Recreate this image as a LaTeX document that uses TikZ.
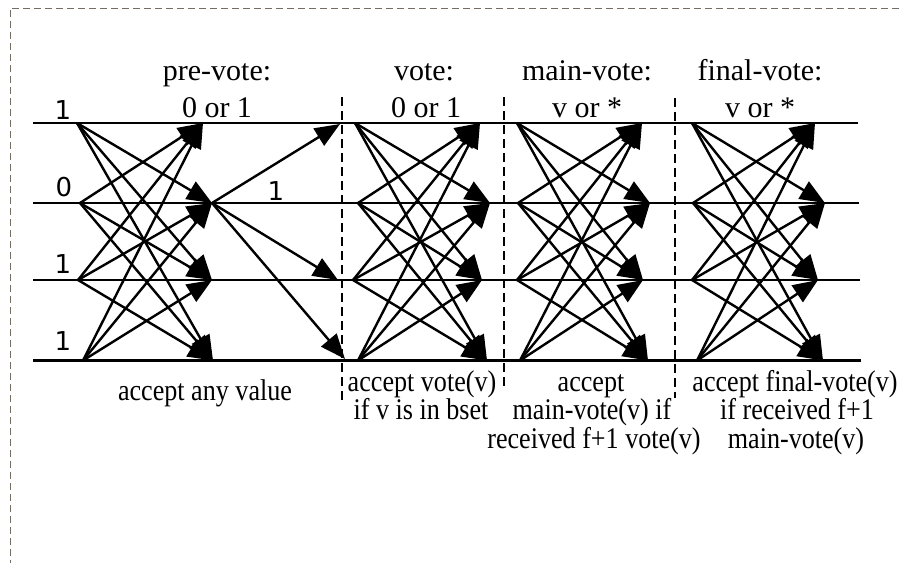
\documentclass[tikz,border=0pt]{standalone}
\usepackage{fontspec}
\setmainfont{Liberation Serif}
\newfontfamily\digitfont{DejaVu Sans}
\newfontfamily\notefont[FakeStretch=0.87]{Liberation Serif}
\usetikzlibrary{arrows.meta}
\definecolor{framegray}{RGB}{115,109,99}

\begin{document}
\begin{tikzpicture}[x=1pt,y=-1pt,
  track/.style={line width=2.7pt},
  msg/.style={line width=2.4pt,-{Triangle[length=25pt,width=20pt]}},
  phase/.style={dash pattern=on 9pt off 5pt,line width=1.1pt},
  head/.style={font=\fontsize{30}{36}\selectfont,anchor=base,inner sep=0pt},
  note/.style={font=\notefont\fontsize{30}{28.5}\selectfont,anchor=base,inner sep=0pt},
  idx/.style={font=\digitfont\fontsize{26}{30}\selectfont,inner sep=0pt}]

\useasboundingbox (0,0) rectangle (899,563);

% outer dashed frame (only top and left edges lie inside the page)
\draw[framegray,line width=1pt,dash pattern=on 7pt off 4pt] (899,8) -- (10,8) -- (10,563);

% process time lines
\foreach \k/\y/\xe in {1/123/858,2/203/859,3/280/860,4/360.5/861}{
  \coordinate (L\k w) at (33,\y);
  \coordinate (L\k e) at (\xe,\y);
  \draw[track] (L\k w) -- (L\k e);
}

% phase separators
\coordinate (d1t) at (342,97);  \coordinate (d1b) at (342,400);
\coordinate (d2t) at (504,97);  \coordinate (d2b) at (504,390);
\coordinate (d3t) at (675,98);  \coordinate (d3b) at (675,398);
\draw[phase] (d1t) -- (d1b);
\draw[phase] (d2t) -- (d2b);
\draw[phase] (d3t) -- (d3b);

% senders (s) and receivers (t) of each round
\coordinate (a-s1) at (77,123);  \coordinate (a-t1) at (203,123);
\coordinate (a-s2) at (80,203);  \coordinate (a-t2) at (212,203);
\coordinate (a-s3) at (78,280);  \coordinate (a-t3) at (212,280);
\coordinate (a-s4) at (83,360.5);\coordinate (a-t4) at (213,360.5);

\coordinate (b-s1) at (355,123); \coordinate (b-t1) at (480,123);
\coordinate (b-s2) at (358,203); \coordinate (b-t2) at (490,203);
\coordinate (b-s3) at (353,280); \coordinate (b-t3) at (482,280);
\coordinate (b-s4) at (358,360.5);\coordinate (b-t4) at (487,360.5);

\coordinate (c-s1) at (517,123); \coordinate (c-t1) at (642,123);
\coordinate (c-s2) at (518,203); \coordinate (c-t2) at (650,203);
\coordinate (c-s3) at (517,280); \coordinate (c-t3) at (643,280);
\coordinate (c-s4) at (520,360.5);\coordinate (c-t4) at (648,360.5);

\coordinate (d-s1) at (692,123); \coordinate (d-t1) at (815,123);
\coordinate (d-s2) at (693,203); \coordinate (d-t2) at (825,203);
\coordinate (d-s3) at (692,280); \coordinate (d-t3) at (818,280);
\coordinate (d-s4) at (697,360.5);\coordinate (d-t4) at (823,360.5);

% all-to-all messages of each round
\foreach \s in {a,b,c,d}{
  \foreach \i in {1,...,4}{
    \foreach \j in {1,...,4}{
      \ifnum\i=\j\relax\else
        \draw[msg] (\s-s\i) -- (\s-t\j);
      \fi
    }
  }
}

% the value 1 forwarded by the second process
\coordinate (f1) at (340,124);
\coordinate (f3) at (338,280);
\coordinate (f4) at (345,359);
\draw[msg] (a-t2) -- (f1);
\draw[msg] (a-t2) -- (f3);
\draw[msg] (a-t2) -- (f4);
\node[idx] (fwd) at (276,191) {1};

% initial inputs
\node[idx] (in1) at (63,110) {1};
\node[idx] (in2) at (64,187) {0};
\node[idx] (in3) at (63,264) {1};
\node[idx] (in4) at (63,341) {1};

% round headings
\node[head] (h1a) at (217,80)  {pre-vote:};
\node[head] (h1b) at (217,117) {0 or 1};
\node[head] (h2a) at (424,80)  {vote:};
\node[head] (h2b) at (426,117) {0 or 1};
\node[head] (h3a) at (587,80)  {main-vote:};
\node[head] (h3b) at (587,117) {v or *};
\node[head] (h4a) at (760,80)  {final-vote:};
\node[head] (h4b) at (760,117) {v or *};

% acceptance rules
\node[note] (r1)  at (205,400) {accept any value};
\node[note] (r2a) at (422,391) {accept vote(v)};
\node[note] (r2b) at (421,419) {if v is in bset};
\node[note] (r3a) at (591,391) {accept};
\node[note] (r3b) at (592,419) {main-vote(v) if};
\node[note] (r3c) at (594,448) {received f+1 vote(v)};
\node[note] (r4a) at (795,391) {accept final-vote(v)};
\node[note] (r4b) at (797,419) {if received f+1};
\node[note] (r4c) at (796,448) {main-vote(v)};
\end{tikzpicture}
\end{document}
